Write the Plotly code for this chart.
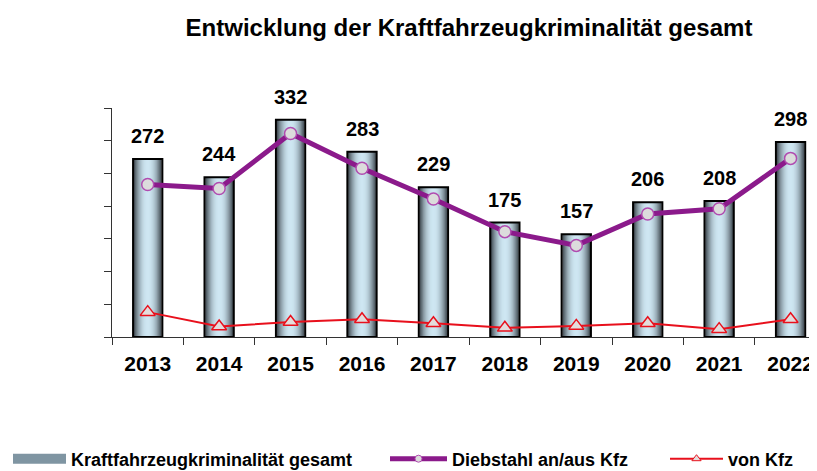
import plotly.graph_objects as go

years = ["2013", "2014", "2015", "2016", "2017", "2018", "2019", "2020", "2021", "2022"]
gesamt = [272, 244, 332, 283, 229, 175, 157, 206, 208, 298]
diebstahl = [233, 227, 311, 258, 211, 161, 140, 188, 196, 273]
von_kfz = [38, 16, 23, 27, 21, 14, 17, 21, 12, 27]

names = ["Kraftfahrzeugkriminalität gesamt", "Diebstahl an/aus Kfz", "von Kfz"]

# page is shown with the browser's default 8px body margin -> figure is 8px smaller
W, H = 809, 463

BAR_W = 0.41
dark = (70, 80, 88)
light = (206, 230, 242)
N = 12

PURPLE = "#8b1a8b"
RED = "#e8101c"

fig = go.Figure()

for k in range(N):
    s = k / (N - 1)
    f = 1 - (1 - s) ** 2
    col = tuple(int(dark[i] + (light[i] - dark[i]) * f) for i in range(3))
    w = (BAR_W - 0.02) * (1 - k / N)
    fig.add_trace(go.Bar(x=years, y=gesamt, width=w,
                         marker=dict(color="rgb(%d,%d,%d)" % col, line=dict(width=0)),
                         showlegend=False, hoverinfo="skip"))

fig.add_trace(go.Bar(x=years, y=gesamt, width=BAR_W,
                     marker=dict(color="rgba(0,0,0,0)", line=dict(color="black", width=2)),
                     showlegend=False, name=names[0]))

fig.add_trace(go.Scatter(x=years, y=diebstahl, mode="lines+markers", name=names[1],
                         line=dict(color=PURPLE, width=5),
                         marker=dict(symbol="circle", size=12, color="#dcdcdc",
                                     line=dict(color="#b04cb0", width=1.5)),
                         showlegend=False))

fig.add_trace(go.Scatter(x=years, y=von_kfz, mode="lines+markers", name=names[2],
                         line=dict(color=RED, width=2),
                         marker=dict(symbol="triangle-up", size=13, color="#e4dcdc",
                                     line=dict(color=RED, width=1.5)),
                         showlegend=False))

# legend entries (no data of their own)
fig.add_trace(go.Scatter(x=[None], y=[None], mode="lines", name=names[0],
                         line=dict(color="#7f95a2", width=10), legend="legend"))
fig.add_trace(go.Scatter(x=[None], y=[None], mode="lines+markers", name=names[1],
                         line=dict(color=PURPLE, width=5),
                         marker=dict(symbol="circle", size=7, color="#dcdcdc",
                                     line=dict(color="#b04cb0", width=1)),
                         legend="legend2"))
fig.add_trace(go.Scatter(x=[None], y=[None], mode="lines+markers", name=names[2],
                         line=dict(color=RED, width=2),
                         marker=dict(symbol="triangle-up", size=8, color="#e4dcdc",
                                     line=dict(color=RED, width=1)),
                         legend="legend3"))

for i, v in enumerate(gesamt):
    fig.add_annotation(x=i, y=v, xref="x", yref="y", text=str(v), showarrow=False,
                       yshift=23, xanchor="center", yanchor="middle",
                       font=dict(family="Liberation Sans, Arial", size=20, color="black", weight="bold"))

leg_font = dict(family="Liberation Sans, Arial", size=18, color="black", weight="bold")
leg_y = 1 - 451 / H
fig.update_layout(
    width=W, height=H,
    margin=dict(l=104, r=0, t=100, b=134),
    paper_bgcolor="white", plot_bgcolor="white",
    barmode="overlay",
    title=dict(text="Entwicklung der Kraftfahrzeugkriminalität gesamt",
               x=461 / W, xref="container", xanchor="center",
               y=1 - 20 / H, yref="container", yanchor="middle",
               font=dict(family="Liberation Sans, Arial", size=24, color="black", weight="bold")),
    xaxis=dict(type="category", range=[-0.5, 9.37], showline=True, linecolor="#333", linewidth=1,
               ticks="outside", tickson="boundaries", ticklen=7, tickcolor="#333",
               showgrid=False, ticklabelstandoff=8,
               tickfont=dict(family="Liberation Sans, Arial", size=21, color="black", weight="bold")),
    yaxis=dict(range=[0, 350], dtick=50, showline=True, linecolor="#333", linewidth=1,
               ticks="outside", ticklen=7, tickcolor="#333", showticklabels=False,
               showgrid=False, zeroline=False),
    legend=dict(x=0.0, xref="container", y=leg_y, yref="container", yanchor="middle",
                orientation="h", itemwidth=53, font=leg_font, bgcolor="rgba(0,0,0,0)"),
    legend2=dict(x=377 / W, xref="container", y=leg_y, yref="container", yanchor="middle",
                 orientation="h", itemwidth=57, font=leg_font, bgcolor="rgba(0,0,0,0)"),
    legend3=dict(x=657 / W, xref="container", y=leg_y, yref="container", yanchor="middle",
                 orientation="h", itemwidth=53, font=leg_font, bgcolor="rgba(0,0,0,0)"),
)

fig.write_html("out.html")
